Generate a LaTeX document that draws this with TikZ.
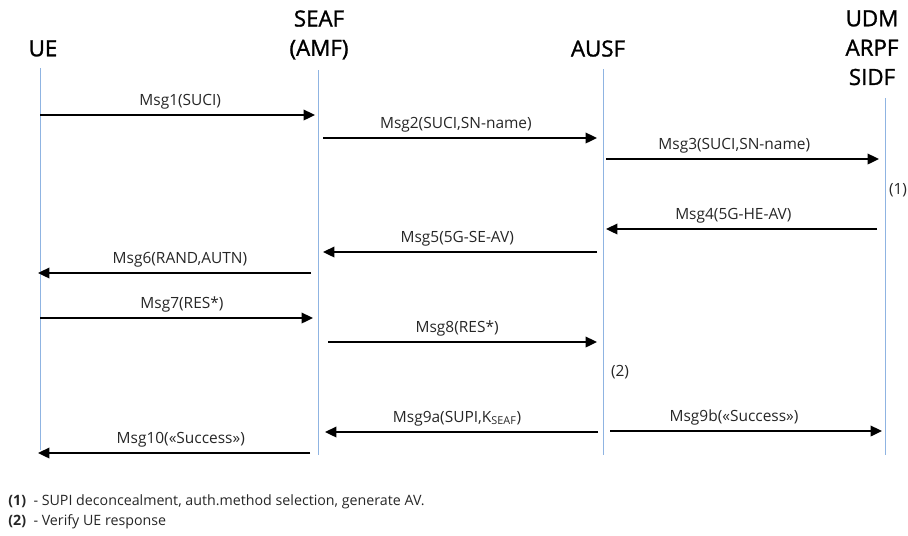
\documentclass[tikz,border=0pt]{standalone}
\usepackage{fontspec}
\setmainfont{Open Sans}
\newfontfamily\headfont[FakeBold=1.2]{Open Sans}
\usetikzlibrary{arrows.meta}
\definecolor{lifeblue}{RGB}{143,180,226}
\definecolor{textgray}{RGB}{38,38,38}

\begin{document}
\begin{tikzpicture}[x=0.02cm, y=-0.02cm, >={Triangle[length=6.5pt, width=6pt]},
  head/.style={font=\headfont\fontsize{12.7}{16.7}\selectfont, align=center, inner sep=0pt, anchor=north},
  lifeline/.style={draw=lifeblue, line width=0.5pt},
  msg/.style={->, line width=1.1pt},
  lbl/.style={above=1pt, font=\fontsize{8.8}{10}\selectfont, text=textgray, inner sep=2pt},
  procmark/.style={font=\fontsize{8.8}{10}\selectfont, text=textgray, inner sep=0pt},
  note/.style={font=\fontsize{8.1}{10}\selectfont, text=textgray, inner sep=0pt}]

\useasboundingbox (0,0) rectangle (908,535);

% Entities
\node[head] (ue) at (43,40) {UE};
\node[head] (seaf) at (319,10) {SEAF\\(AMF)};
\node[head] (ausf) at (598,40) {AUSF};
\node[head] (udm) at (872,10) {UDM\\ARPF\\SIDF};

% Lifelines
\coordinate (ueTop) at (40,68);    \coordinate (ueBot) at (40,450);
\coordinate (seafTop) at (318,70); \coordinate (seafBot) at (318,455);
\coordinate (ausfTop) at (603,69); \coordinate (ausfBot) at (603,455);
\coordinate (udmTop) at (885,98);  \coordinate (udmBot) at (885,455);
\draw[lifeline] (ueTop) -- (ueBot);
\draw[lifeline] (seafTop) -- (seafBot);
\draw[lifeline] (ausfTop) -- (ausfBot);
\draw[lifeline] (udmTop) -- (udmBot);

% Message end points
\coordinate (m1a) at (40,115);   \coordinate (m1b) at (315,115);
\coordinate (m2a) at (323,138);  \coordinate (m2b) at (597,138);
\coordinate (m3a) at (606,159);  \coordinate (m3b) at (879,159);
\coordinate (m4a) at (877,229);  \coordinate (m4b) at (606,229);
\coordinate (m5a) at (597,252);  \coordinate (m5b) at (323,252);
\coordinate (m6a) at (311,273);  \coordinate (m6b) at (38,273);
\coordinate (m7a) at (40,318);   \coordinate (m7b) at (313,318);
\coordinate (m8a) at (328,342);  \coordinate (m8b) at (597,342);
\coordinate (m9a) at (598,432);  \coordinate (m9b) at (325,432);
\coordinate (m9c) at (610,431);  \coordinate (m9d) at (882,431);
\coordinate (m10a) at (310,453); \coordinate (m10b) at (38,453);

% Messages
\draw[msg] (m1a) -- node[lbl, pos=0.51] {Msg1(SUCI)} (m1b);
\draw[msg] (m2a) -- node[lbl, pos=0.485] {Msg2(SUCI,SN-name)} (m2b);
\draw[msg] (m3a) -- node[lbl, pos=0.47] {Msg3(SUCI,SN-name)} (m3b);
\draw[msg] (m4a) -- node[lbl, pos=0.53] {Msg4(5G-HE-AV)} (m4b);
\draw[msg] (m5a) -- node[lbl, pos=0.51] {Msg5(5G-SE-AV)} (m5b);
\draw[msg] (m6a) -- node[lbl, pos=0.48] {Msg6(RAND,AUTN)} (m6b);
\draw[msg] (m7a) -- node[lbl, pos=0.52] {Msg7(RES*)} (m7b);
\draw[msg] (m8a) -- node[lbl, pos=0.48] {Msg8(RES*)} (m8b);
\draw[msg] (m9a) -- node[lbl, pos=0.516] {Msg9a(SUPI,K\textsubscript{SEAF})} (m9b);
\draw[msg] (m9c) -- node[lbl, pos=0.456] {Msg9b(«Success»)} (m9d);
\draw[msg] (m10a) -- node[lbl, pos=0.475] {Msg10(«Success»)} (m10b);

% Processing marks
\node[procmark] (p1) at (898,190) {(1)};
\node[procmark] (p2) at (620,372) {(2)};

% Legend
\node[note, anchor=west] (leg1) at (8,502) {\textbf{(1)}\ \ - SUPI deconcealment, auth.method selection, generate AV.};
\node[note, anchor=west] (leg2) at (8,522) {\textbf{(2)}\ \ - Verify UE response};

\end{tikzpicture}
\end{document}
